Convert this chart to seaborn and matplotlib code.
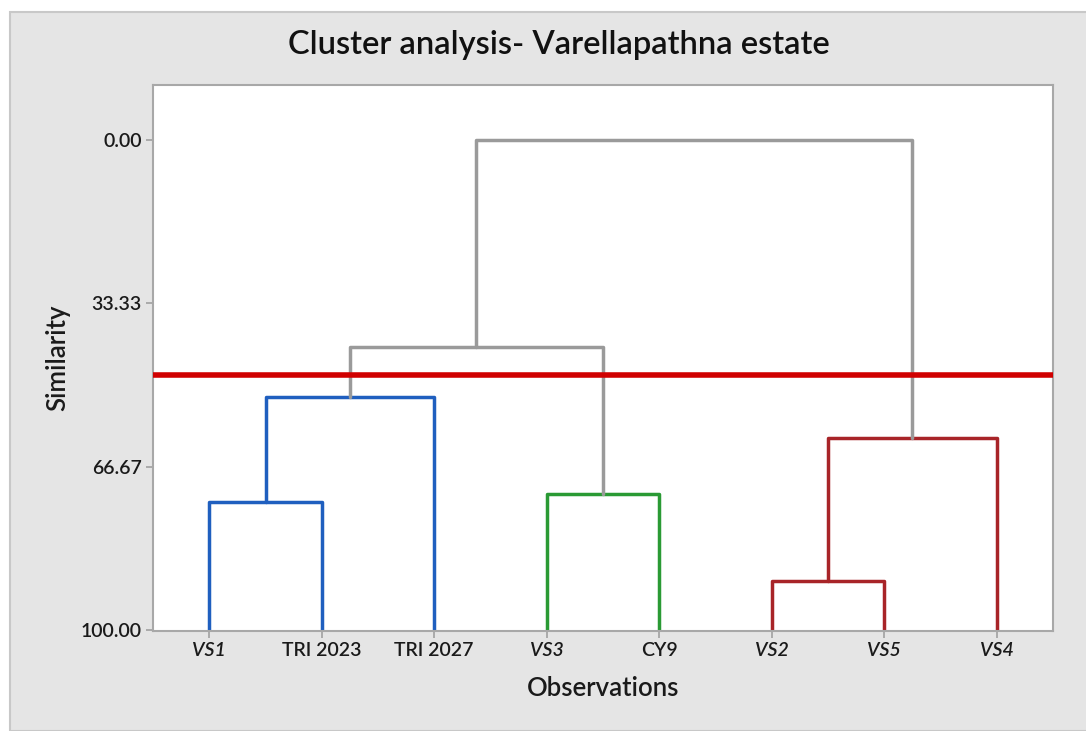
import pandas as pd
import seaborn as sns
import matplotlib.pyplot as plt
from matplotlib.patches import Rectangle

# leaves in dendrogram order
leaves = ["VS1", "TRI 2023", "TRI 2027", "VS3", "CY9", "VS2", "VS5", "VS4"]
italic_leaves = ["VS1", "VS3", "VS2", "VS5", "VS4"]

# merges: node ids 0-7 are leaves, merge k creates node 8+k
merge_a = [0, 8, 3, 5, 11, 9, 13]
merge_b = [1, 2, 4, 6, 7, 10, 12]
merge_sim = [73.9, 52.4, 72.2, 90.0, 60.8, 42.2, 0.0]
merge_group = ["blue", "blue", "green", "red", "red", "gray", "gray"]

cut_level = 48.0
y_ticks = [0.00, 33.33, 66.67, 100.00]

palette = {"blue": "#1f5fbf", "green": "#2a9a34", "red": "#a82428", "gray": "#9a9a9a"}

# build the segments of the dendrogram
node_x = {i: i + 1 for i in range(len(leaves))}
node_y = {i: 100.0 for i in range(len(leaves))}
rows = []
for k, (a, b, s, g) in enumerate(zip(merge_a, merge_b, merge_sim, merge_group)):
    seg = f"m{k}"
    pts = [(node_x[a], node_y[a]), (node_x[a], s), (node_x[b], s), (node_x[b], node_y[b])]
    for i, (x, y) in enumerate(pts):
        rows.append({"seg": seg, "order": i, "x": x, "y": y, "group": g})
    node_x[8 + k] = (node_x[a] + node_x[b]) / 2
    node_y[8 + k] = s
df = pd.DataFrame(rows)

sns.set_style("white")
plt.rcParams["font.family"] = ["Lato", "DejaVu Sans"]
txt = "#1a1a1a"

fig = plt.figure(figsize=(10.86, 7.31), dpi=100)
fig.patch.set_facecolor("white")
fig.patches.append(Rectangle((10 / 1086, 0), 1, 1 - 12 / 731, transform=fig.transFigure,
                             facecolor="#e5e5e5", edgecolor="#c8c8c8", linewidth=1.5, zorder=-10))

ax = fig.add_axes([153 / 1086, 1 - 631 / 731, 900 / 1086, 546 / 731])
ax.set_facecolor("white")

sns.lineplot(data=df, x="x", y="y", units="seg", hue="group", palette=palette,
             estimator=None, sort=False, linewidth=2.5, legend=False, ax=ax)
ax.axhline(cut_level, color="#d00000", linewidth=4, zorder=5)

ax.set_xlim(0.5, 8.5)
ax.set_ylim(100.2, -11.2)
ax.set_yticks(y_ticks)
ax.set_yticklabels([f"{v:.2f}" for v in y_ticks], fontsize=14, color=txt, weight="semibold")
ax.set_xticks(range(1, len(leaves) + 1))
ax.set_xticklabels(leaves, fontsize=14, color=txt, weight="semibold")
for lbl in ax.get_xticklabels():
    if lbl.get_text() in italic_leaves:
        lbl.set_style("italic")

ax.tick_params(axis="both", length=5, width=1.2, color="#a0a0a0", pad=3, bottom=True, left=True)
for sp in ax.spines.values():
    sp.set_color("#a8a8a8")
    sp.set_linewidth(1.5)

ax.set_xlabel("Observations", fontsize=18.5, color=txt, labelpad=12, weight="semibold")
ax.set_ylabel("Similarity", fontsize=18.5, color=txt, labelpad=8, weight="semibold")
fig.text(0.515, 1 - 45 / 731, "Cluster analysis- Varellapathna estate", ha="center", va="center",
         fontsize=23.5, color="#111111", weight="semibold")

fig.savefig("out.png", dpi=100)
